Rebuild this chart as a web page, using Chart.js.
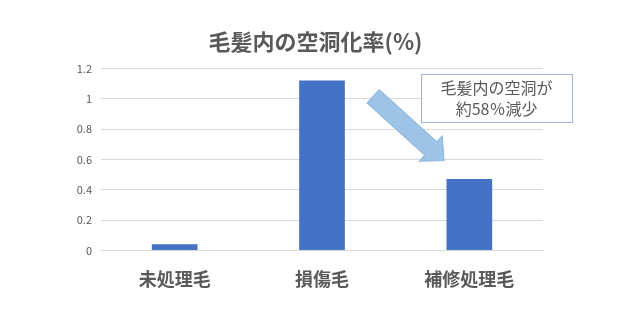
<!DOCTYPE html>
<html><head><meta charset="utf-8">
<script src="https://cdn.jsdelivr.net/npm/chart.js@4/dist/chart.umd.min.js"></script>
<style>html,body{margin:0;padding:0;background:#fff}#wrap{width:640px;height:312px}</style>
</head><body><div id="wrap"><canvas id="c" width="640" height="312"></canvas></div>
<script>
const categories = ['未処理毛', '損傷毛', '補修処理毛'];
const values = [0.04, 1.12, 0.47];
const yTicks = [0, 0.2, 0.4, 0.6, 0.8, 1, 1.2];
const titleText = '毛髪内の空洞化率(%)';
const noteLines = ['毛髪内の空洞が', '約58％減少'];

const FONT = '"Noto Sans CJK JP", "Noto Sans", sans-serif';
const GRAY = '#595959';

const annot = {
  id: 'annot',
  afterDraw(chart) {
    const ctx = chart.ctx, xs = chart.scales.x, ys = chart.scales.y;
    // arrow from 損傷毛 bar toward 補修処理毛 bar
    const x0 = xs.getPixelForValue(1.347), y0 = ys.getPixelForValue(1.016);
    const x1 = xs.getPixelForValue(1.829), y1 = ys.getPixelForValue(0.592);
    const ang = Math.atan2(y1 - y0, x1 - x0);
    const len = Math.hypot(x1 - x0, y1 - y0);
    const sw = 9, hw = 17, hl = 18;
    ctx.save();
    ctx.translate(x0, y0); ctx.rotate(ang);
    ctx.beginPath();
    ctx.moveTo(0, -sw); ctx.lineTo(len - hl, -sw); ctx.lineTo(len - hl, -hw);
    ctx.lineTo(len, 0); ctx.lineTo(len - hl, hw); ctx.lineTo(len - hl, sw);
    ctx.lineTo(0, sw); ctx.closePath();
    ctx.fillStyle = '#9dc3e6'; ctx.fill();
    ctx.strokeStyle = '#8fb3dc'; ctx.lineWidth = 1; ctx.stroke();
    ctx.restore();
    // note box
    const bl = xs.getPixelForValue(1.672), br = xs.getPixelForValue(2.698);
    const bt = ys.getPixelForValue(1.164), bb = ys.getPixelForValue(0.849);
    ctx.save();
    ctx.fillStyle = '#ffffff';
    ctx.fillRect(bl, bt, br - bl, bb - bt);
    ctx.strokeStyle = '#9fb6d3'; ctx.lineWidth = 1;
    ctx.strokeRect(Math.round(bl) + 0.5, Math.round(bt) + 0.5, Math.round(br - bl), Math.round(bb - bt));
    ctx.fillStyle = GRAY; ctx.font = '16px ' + FONT;
    ctx.textAlign = 'center'; ctx.textBaseline = 'middle';
    const cx = (bl + br) / 2, cy = (bt + bb) / 2;
    ctx.fillText(noteLines[0], cx, cy - 10);
    ctx.fillText(noteLines[1], cx, cy + 11);
    ctx.restore();
  }
};

new Chart(document.getElementById('c'), {
  type: 'bar',
  data: {
    labels: categories,
    datasets: [{
      data: values,
      backgroundColor: '#4472c4',
      barPercentage: 0.62,
      categoryPercentage: 0.5
    }]
  },
  options: {
    responsive: false,
    animation: false,
    layout: { padding: { left: 64, right: 73, top: 0, bottom: 4 } },
    plugins: {
      legend: { display: false },
      tooltip: { enabled: false },
      title: {
        display: true, text: titleText, color: GRAY,
        font: { family: FONT, size: 22, weight: 'bold' },
        padding: { top: 28, bottom: 14 }
      }
    },
    scales: {
      x: {
        grid: { display: false, drawTicks: false },
        border: { display: true, color: '#d9d9d9' },
        ticks: { color: GRAY, padding: 18, font: { family: FONT, size: 18, weight: 'bold' } }
      },
      y: {
        min: 0, max: 1.2,
        afterFit(s) { s.width = 37; },
        afterBuildTicks(s) { s.ticks = yTicks.map(v => ({ value: v })); },
        grid: { color: '#d9d9d9', drawTicks: false },
        border: { display: false },
        ticks: { color: GRAY, padding: 9, font: { family: FONT, size: 11 }, callback: v => String(v) }
      },
      yRight: {
        position: 'right', min: 0, max: 1.2,
        afterFit(s) { s.width = 24; },
        grid: { display: false, drawTicks: false },
        border: { display: false },
        ticks: { display: false }
      }
    }
  },
  plugins: [annot]
});
</script></body></html>
